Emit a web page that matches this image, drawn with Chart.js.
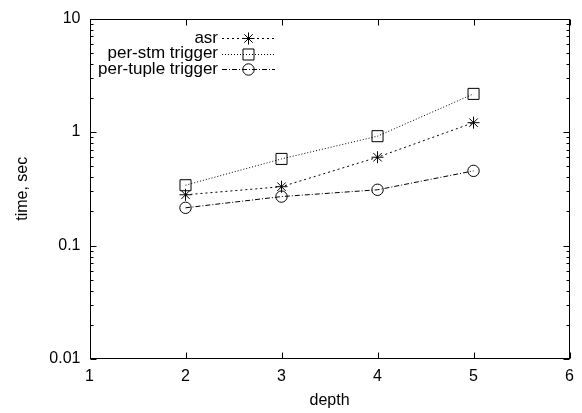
<!DOCTYPE html>
<html>
<head>
<meta charset="utf-8">
<script src="https://cdn.jsdelivr.net/npm/chart.js@4"></script>
<style>
  html, body { margin: 0; background: #fff; }
  canvas { display: block; }
</style>
</head>
<body>
<canvas id="chart" width="582" height="413"></canvas>
<script>
const depths = [2, 3, 4, 5];
const asrTimes = [0.28, 0.33, 0.60, 1.21];
const perStmTimes = [0.34, 0.58, 0.92, 2.17];
const perTupleTimes = [0.215, 0.27, 0.31, 0.455];
const seriesNames = ['asr', 'per-stm trigger', 'per-tuple trigger'];
const xTicks = [1, 2, 3, 4, 5, 6];
const yTicks = [0.01, 0.1, 1, 10];

const FONT = '"Liberation Sans", Arial, Helvetica, sans-serif';
Chart.defaults.font.family = FONT;
Chart.defaults.font.size = 16;
Chart.defaults.color = '#000';

function points(ys) {
  return depths.map((x, i) => ({ x: x, y: ys[i] }));
}

function series(label, ys, dash, style, radius) {
  return {
    label: label,
    data: points(ys),
    borderColor: '#000',
    borderWidth: 1,
    borderDash: dash,
    pointStyle: style,
    pointRadius: radius,
    pointBorderWidth: 1,
    pointBorderColor: '#000',
    pointBackgroundColor: 'rgba(0,0,0,0)',
    tension: 0
  };
}

// gnuplot style frame with inward ticks on all four sides
const frame = {
  id: 'frame',
  afterDatasetsDraw(chart) {
    const { ctx, chartArea: a, scales: { x, y } } = chart;
    const L = Math.round(a.left) + 0.5, R = Math.round(a.right) - 0.5;
    const T = Math.round(a.top) + 0.5, B = Math.round(a.bottom) - 0.5;
    ctx.save();
    ctx.strokeStyle = '#000';
    ctx.lineWidth = 1;
    ctx.strokeRect(L, T, R - L, B - T);
    ctx.beginPath();
    xTicks.forEach(v => {
      const px = Math.round(x.getPixelForValue(v)) + 0.5;
      ctx.moveTo(px, B); ctx.lineTo(px, B - 6);
      ctx.moveTo(px, T); ctx.lineTo(px, T + 6);
    });
    yTicks.forEach((v, i) => {
      const py = Math.round(y.getPixelForValue(v)) + 0.5;
      ctx.moveTo(L, py); ctx.lineTo(L + 6, py);
      ctx.moveTo(R, py); ctx.lineTo(R - 6, py);
      if (i < yTicks.length - 1) {
        for (let m = 2; m <= 9; m++) {
          const my = Math.round(y.getPixelForValue(v * m)) + 0.5;
          ctx.moveTo(L, my); ctx.lineTo(L + 3, my);
          ctx.moveTo(R, my); ctx.lineTo(R - 3, my);
        }
      }
    });
    ctx.stroke();
    ctx.restore();
  }
};

// key in the top left, text right aligned with the sample to its right
const key = {
  id: 'key',
  afterDraw(chart) {
    const ctx = chart.ctx;
    ctx.save();
    ctx.font = '17px ' + FONT;
    ctx.textAlign = 'right';
    ctx.textBaseline = 'middle';
    chart.data.datasets.forEach((ds, i) => {
      const yy = 38 + i * 15.5;
      ctx.fillStyle = '#000';
      ctx.fillText(ds.label, 218, yy);
      ctx.strokeStyle = '#000';
      ctx.lineWidth = 1;
      ctx.setLineDash(ds.borderDash);
      ctx.beginPath();
      ctx.moveTo(222, Math.round(yy) + 0.5);
      ctx.lineTo(275, Math.round(yy) + 0.5);
      ctx.stroke();
      ctx.setLineDash([]);
      ctx.fillStyle = 'rgba(0,0,0,0)';
      Chart.helpers.drawPoint(ctx, {
        pointStyle: ds.pointStyle,
        radius: ds.pointRadius,
        rotation: 0,
        borderWidth: 1
      }, 248.5, Math.round(yy) + 0.5);
    });
    ctx.restore();
  }
};

new Chart(document.getElementById('chart'), {
  type: 'line',
  data: {
    datasets: [
      series(seriesNames[0], asrTimes, [2, 3], 'star', 6),
      series(seriesNames[1], perStmTimes, [1, 2], 'rect', 7.8),
      series(seriesNames[2], perTupleTimes, [5, 2, 1, 2], 'circle', 5.7)
    ]
  },
  options: {
    responsive: false,
    animation: false,
    layout: { padding: { top: 12, right: 10, left: 0, bottom: 0 } },
    plugins: {
      legend: { display: false },
      tooltip: { enabled: false }
    },
    scales: {
      x: {
        type: 'linear',
        min: 1,
        max: 6,
        afterBuildTicks: s => { s.ticks = xTicks.map(v => ({ value: v })); },
        afterFit: s => { s.height = 54; },
        grid: { display: false, drawTicks: false },
        border: { display: false },
        ticks: { padding: 8, maxRotation: 0, callback: v => String(v) },
        title: { display: true, text: 'depth', padding: { top: 0, bottom: 3 } }
      },
      y: {
        type: 'logarithmic',
        min: 0.01,
        max: 10,
        afterBuildTicks: s => { s.ticks = yTicks.map(v => ({ value: v })); },
        afterFit: s => { s.width = 89.5; },
        grid: { display: false, drawTicks: false },
        border: { display: false },
        ticks: { padding: 9, callback: v => String(v) },
        title: { display: true, text: 'time, sec', padding: { top: 13, bottom: 0 } }
      }
    }
  },
  plugins: [frame, key]
});
</script>
</body>
</html>
